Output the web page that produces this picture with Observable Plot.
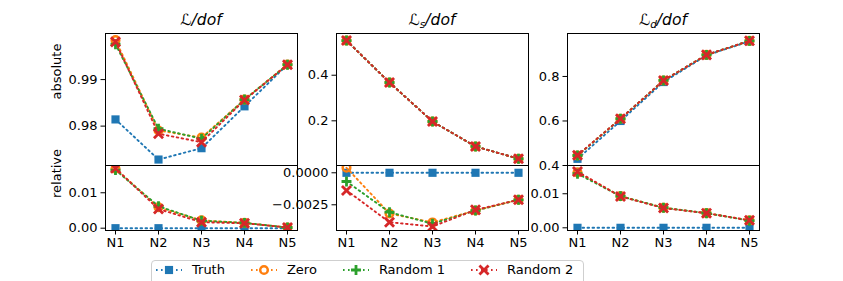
<!DOCTYPE html>
<html><head><meta charset="utf-8">
<script src="https://cdn.jsdelivr.net/npm/d3@7"></script>
<script src="https://cdn.jsdelivr.net/npm/@observablehq/plot@0.6"></script>
<style>
body{margin:0;background:#fff;}
#fig{position:relative;width:843px;height:281px;overflow:hidden;font-family:"DejaVu Sans",sans-serif;background:#fff;}
#fig svg.plt{position:absolute;overflow:visible;background:transparent;max-width:none;}
.title{position:absolute;font-style:italic;font-size:15.6px;text-align:center;width:192px;top:10px;line-height:20px;color:#000;}
.title sub{font-size:10.5px;vertical-align:-3px;line-height:0;}
.legend{position:absolute;left:151px;top:260px;width:433px;height:34px;border:1px solid #cfcfcf;border-radius:4px;box-sizing:border-box;padding-left:4px;display:flex;align-items:flex-start;font-size:13px;color:#000;background:#fff;white-space:nowrap;}
.legend .item{display:flex;align-items:center;height:18px;line-height:18px;margin-right:26px;flex-shrink:0;white-space:nowrap;}
.legend .item svg{margin-right:10px;display:block;flex-shrink:0;}
</style></head><body><div id="fig"></div>
<script>
// ---- data ----
const categories = ["N1", "N2", "N3", "N4", "N5"];
const seriesNames = ["Truth", "Zero", "Random 1", "Random 2"];

// L/dof, absolute
const absL_truth = [0.98144, 0.97282, 0.97526, 0.98425, 0.99323];
const absL_zero  = [0.99847, 0.97907, 0.97752, 0.98569, 0.99323];
const absL_rand1 = [0.99761, 0.97944, 0.97730, 0.98570, 0.99320];
const absL_rand2 = [0.99810, 0.97836, 0.97655, 0.98560, 0.99320];
// L/dof, relative
const relL_truth = [0, 0, 0, 0, 0];
const relL_zero  = [0.0168, 0.0059, 0.0022, 0.0015, 0.0002];
const relL_rand1 = [0.0164, 0.0062, 0.0021, 0.0015, 0.0002];
const relL_rand2 = [0.0169, 0.0054, 0.0017, 0.0014, 0.0002];
// Ls/dof, absolute
const absLs_truth = [0.552, 0.368, 0.197, 0.0875, 0.0337];
const absLs_zero  = [0.552, 0.368, 0.197, 0.0875, 0.0337];
const absLs_rand1 = [0.552, 0.368, 0.197, 0.0875, 0.0337];
const absLs_rand2 = [0.552, 0.368, 0.197, 0.0875, 0.0337];
// Ls/dof, relative
const relLs_truth = [0, 0, 0, 0, 0];
const relLs_zero  = [0.00039, -0.00318, -0.00388, -0.00295, -0.00211];
const relLs_rand1 = [-0.00068, -0.00308, -0.00398, -0.00295, -0.00211];
const relLs_rand2 = [-0.00138, -0.00386, -0.00420, -0.00290, -0.00211];
// Ld/dof, absolute
const absLd_truth = [0.430, 0.600, 0.775, 0.895, 0.958];
const absLd_zero  = [0.445, 0.610, 0.782, 0.897, 0.960];
const absLd_rand1 = [0.445, 0.610, 0.782, 0.897, 0.960];
const absLd_rand2 = [0.446, 0.610, 0.782, 0.897, 0.960];
// Ld/dof, relative
const relLd_truth = [0, 0, 0, 0, 0];
const relLd_zero  = [0.0163, 0.0093, 0.0059, 0.0043, 0.0022];
const relLd_rand1 = [0.0159, 0.0093, 0.0059, 0.0043, 0.0021];
const relLd_rand2 = [0.0165, 0.0092, 0.0058, 0.0043, 0.0022];

// tick values
const ticksAbsL = [0.98, 0.99], ticksRelL = [0, 0.01];
const ticksAbsLs = [0.2, 0.4], ticksRelLs = [-0.0025, 0];
const ticksAbsLd = [0.4, 0.6, 0.8], ticksRelLd = [0, 0.01];

// ---- styles ----
const styles = {
  "Truth":    {color: "#1f77b4", symbol: "square", r: 4.6, filled: true,  sw: 0},
  "Zero":     {color: "#ff7f0e", symbol: "circle", r: 3.8, filled: false, sw: 2.5},
  "Random 1": {color: "#2ca02c", symbol: "plus",   r: 3.3, filled: false, sw: 2.8},
  "Random 2": {color: "#d62728", symbol: "times",  r: 4.2, filled: false, sw: 2.8}
};
const DASH = "1.6,3.4";
const LW = 1.9;

function rowsOf(arrays) {
  return arrays.flatMap((vals, si) => vals.map((v, i) => ({series: seriesNames[si], cat: categories[i], value: v})));
}
function seriesMarks(rows) {
  return seriesNames.flatMap(name => {
    const d = rows.filter(r => r.series === name), s = styles[name];
    return [
      Plot.line(d, {x: "cat", y: "value", stroke: s.color, strokeWidth: LW, strokeDasharray: DASH, clip: true}),
      Plot.dot(d, {x: "cat", y: "value", symbol: s.symbol, r: s.r,
        fill: s.filled ? s.color : "none", stroke: s.filled ? "none" : s.color, strokeWidth: s.sw, clip: true})
    ];
  });
}

const fig = document.getElementById("fig");
const PW = 192, ML = 60, MR = 10;
function panel({left, top, height, mt, mb, domain, ticks, fmt, rows, ylabel, xaxis}) {
  const marks = [
    ...seriesMarks(rows),
    Plot.frame({stroke: "black", strokeWidth: 1}),
    Plot.axisY({ticks, tickFormat: d3.format(fmt), tickSize: 4.5, tickPadding: 3.5, label: null, fontSize: 13})
  ];
  if (ylabel) marks.push(Plot.text([ylabel], {text: d => d, frameAnchor: "left", dx: -49, rotate: -90, fontSize: 13, fill: "black"}));
  if (xaxis) marks.push(Plot.axisX({tickSize: 4.5, tickPadding: 3, label: null, fontSize: 13}));
  const p = Plot.plot({
    width: ML + PW + MR, height, marginLeft: ML, marginRight: MR, marginTop: mt, marginBottom: mb,
    style: {fontFamily: "DejaVu Sans", fontSize: "13px", color: "black", background: "transparent", overflow: "visible"},
    x: xaxis ? {type: "point", domain: categories, padding: 0.2} : {type: "point", domain: categories, padding: 0.2, axis: null},
    y: {domain},
    marks
  });
  p.classList.add("plt");
  p.style.left = (left - ML) + "px";
  p.style.top = top + "px";
  fig.appendChild(p);
}

const lefts = [105, 336, 567];
const TOP = 33, MID = 165, BOT = 230;
const absCfg = [
  {rows: rowsOf([absL_truth, absL_zero, absL_rand1, absL_rand2]), domain: [0.97154, 0.9999], ticks: ticksAbsL, fmt: ".2f", ylabel: "absolute"},
  {rows: rowsOf([absLs_truth, absLs_zero, absLs_rand1, absLs_rand2]), domain: [0.004, 0.583], ticks: ticksAbsLs, fmt: ".1f"},
  {rows: rowsOf([absLd_truth, absLd_zero, absLd_rand1, absLd_rand2]), domain: [0.4, 0.993], ticks: ticksAbsLd, fmt: ".1f"}
];
const relCfg = [
  {rows: rowsOf([relL_truth, relL_zero, relL_rand1, relL_rand2]), domain: [-0.00065, 0.0177], ticks: ticksRelL, fmt: ".2f", ylabel: "relative"},
  {rows: rowsOf([relLs_truth, relLs_zero, relLs_rand1, relLs_rand2]), domain: [-0.00451, 0.00057], ticks: ticksRelLs, fmt: ".4f"},
  {rows: rowsOf([relLd_truth, relLd_zero, relLd_rand1, relLd_rand2]), domain: [-0.00079, 0.0183], ticks: ticksRelLd, fmt: ".2f"}
];
lefts.forEach((left, i) => {
  panel({left, top: 0, height: MID, mt: TOP, mb: 0, ...absCfg[i], xaxis: false});
  panel({left, top: MID, height: BOT - MID + 35, mt: 0, mb: 35, ...relCfg[i], xaxis: true});
});

// titles
const titles = ["ℒ/dof", "ℒ<sub>s</sub>/dof", "ℒ<sub>d</sub>/dof"];
titles.forEach((t, i) => {
  const d = document.createElement("div");
  d.className = "title"; d.innerHTML = t; d.style.left = lefts[i] + "px";
  fig.appendChild(d);
});

// legend
const lg = d3.select(fig).append("div").attr("class", "legend");
seriesNames.forEach(name => {
  const s = styles[name];
  const it = lg.append("div").attr("class", "item");
  const sv = it.append("svg").attr("width", 26).attr("height", 18);
  sv.append("line").attr("x1", 0).attr("x2", 26).attr("y1", 9).attr("y2", 9)
    .attr("stroke", s.color).attr("stroke-width", LW).attr("stroke-dasharray", DASH);
  const sym = {square: d3.symbolSquare, circle: d3.symbolCircle, plus: d3.symbolPlus, times: d3.symbolTimes}[s.symbol];
  sv.append("path").attr("transform", "translate(13,9)")
    .attr("d", d3.symbol(sym, Math.PI * s.r * s.r)())
    .attr("fill", s.filled ? s.color : (s.symbol === "circle" ? "white" : "none"))
    .attr("stroke", s.filled ? "none" : s.color).attr("stroke-width", s.sw);
  it.append("span").text(name);
});
</script></body></html>
